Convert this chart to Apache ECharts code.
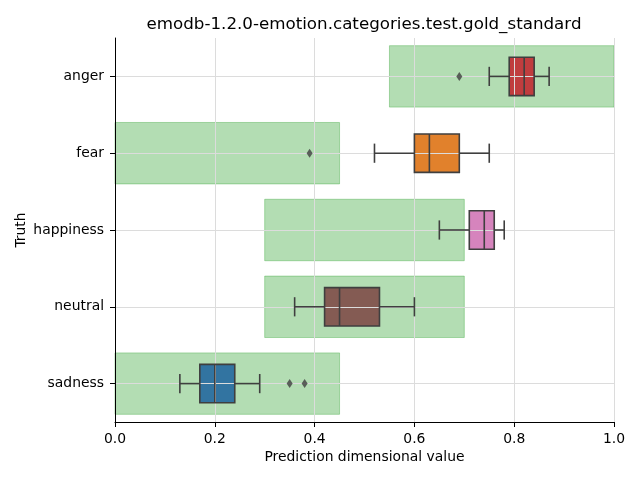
<!DOCTYPE html>
<html>
<head>
<meta charset="utf-8">
<script src="https://cdn.jsdelivr.net/npm/echarts@6/dist/echarts.min.js"></script>
<style>html,body{margin:0;padding:0;background:#fff}#c{width:640px;height:480px}</style>
</head>
<body>
<div id="c"></div>
<script>
const categories = ['anger', 'fear', 'happiness', 'neutral', 'sadness'];
const boxMin    = [0.75, 0.52, 0.65, 0.36, 0.13];
const boxQ1     = [0.79, 0.60, 0.71, 0.42, 0.17];
const boxMedian = [0.82, 0.63, 0.74, 0.45, 0.20];
const boxQ3     = [0.84, 0.69, 0.76, 0.53, 0.24];
const boxMax    = [0.87, 0.75, 0.78, 0.60, 0.29];
const outlierCats   = ['anger', 'fear', 'sadness', 'sadness'];
const outlierValues = [0.69, 0.39, 0.35, 0.38];
const rangeLow  = [0.55, 0.00, 0.30, 0.30, 0.00];
const rangeHigh = [1.00, 0.45, 0.70, 0.70, 0.45];
const xTicks = [0, 0.2, 0.4, 0.6, 0.8, 1.0];
const boxColors = ['#c03d3e', '#e1812c', '#d684bd', '#845b53', '#3274a1'];

const FONT = 'DejaVu Sans';
const LINE = '#3f3f3f';
const GRIDC = '#dcdcdc';
const chart = echarts.init(document.getElementById('c'));

const rangeData = categories.map((c, i) => [i, rangeLow[i], rangeHigh[i]]);
const boxData = categories.map((c, i) => [i, boxMin[i], boxQ1[i], boxMedian[i], boxQ3[i], boxMax[i]]);

function boxGeom(api) {
  const i = api.value(0);
  const pMin = api.coord([api.value(1), i]);
  const pQ1 = api.coord([api.value(2), i]);
  const pMed = api.coord([api.value(3), i]);
  const pQ3 = api.coord([api.value(4), i]);
  const pMax = api.coord([api.value(5), i]);
  const band = api.size([0, 1])[1];
  return { i, pMin, pQ1, pMed, pQ3, pMax, y: pMed[1], bh: band * 0.5, ch: band * 0.25 };
}

chart.setOption({
  animation: false,
  title: {
    text: 'emodb-1.2.0-emotion.categories.test.gold_standard',
    left: 359, textAlign: 'center', top: 11,
    textStyle: { fontFamily: FONT, fontSize: 16.7, fontWeight: 'normal', color: '#000' }
  },
  grid: { left: 115, right: 26, top: 38, bottom: 58 },
  xAxis: {
    type: 'value', min: 0, max: 1, interval: 0.2, z: 4,
    name: 'Prediction dimensional value', nameLocation: 'middle', nameGap: 28,
    nameMoveOverlap: false,
    nameTextStyle: { fontFamily: FONT, fontSize: 13.9, color: '#000' },
    axisLine: { show: true, lineStyle: { color: '#000', width: 1 } },
    axisTick: { show: true, length: 5, lineStyle: { color: '#000' } },
    axisLabel: { fontFamily: FONT, fontSize: 13.9, color: '#000', margin: 10,
      formatter: v => xTicks.some(t => Math.abs(t - v) < 1e-9) ? v.toFixed(1) : '' },
    splitLine: { show: true, lineStyle: { color: GRIDC, width: 1 } }
  },
  yAxis: {
    type: 'category', data: categories, inverse: true, z: 20,
    name: 'Truth', nameLocation: 'middle', nameGap: 87,
    nameMoveOverlap: false,
    nameTextStyle: { fontFamily: FONT, fontSize: 13.9, color: '#000' },
    axisLine: { show: true, lineStyle: { color: '#000', width: 1 } },
    axisTick: { show: true, length: 5, alignWithLabel: true, lineStyle: { color: '#000' } },
    axisLabel: { fontFamily: FONT, fontSize: 13.9, color: '#000', margin: 11 },
    splitLine: { show: false }
  },
  series: [
    {
      type: 'custom', z: 2,
      encode: { x: [1, 2], y: 0 },
      data: rangeData,
      renderItem: (params, api) => {
        const i = api.value(0);
        const p0 = api.coord([api.value(1), i]);
        const p1 = api.coord([api.value(2), i]);
        const h = api.size([0, 1])[1] * 0.8;
        return {
          type: 'rect',
          shape: { x: p0[0], y: p0[1] - h / 2, width: p1[0] - p0[0], height: h },
          style: { fill: 'rgba(44,160,44,0.36)', stroke: 'rgba(44,160,44,0.36)', lineWidth: 1 }
        };
      }
    },
    {
      type: 'custom', z: 3,
      encode: { x: [1, 2, 3, 4, 5], y: 0 },
      data: boxData,
      renderItem: (params, api) => {
        const g = boxGeom(api);
        return {
          type: 'rect', shape: { x: g.pQ1[0], y: g.y - g.bh / 2, width: g.pQ3[0] - g.pQ1[0], height: g.bh },
          style: { fill: boxColors[g.i], stroke: null }
        };
      }
    },
    {
      type: 'custom', z: 5,
      encode: { x: [1, 2, 3, 4, 5], y: 0 },
      data: boxData,
      renderItem: (params, api) => {
        const g = boxGeom(api);
        const y = g.y;
        const ls = { stroke: LINE, lineWidth: 1.6 };
        return {
          type: 'group',
          children: [
            { type: 'line', shape: { x1: g.pMin[0], y1: y, x2: g.pQ1[0], y2: y }, style: ls },
            { type: 'line', shape: { x1: g.pQ3[0], y1: y, x2: g.pMax[0], y2: y }, style: ls },
            { type: 'line', shape: { x1: g.pMin[0], y1: y - g.ch / 2, x2: g.pMin[0], y2: y + g.ch / 2 }, style: ls },
            { type: 'line', shape: { x1: g.pMax[0], y1: y - g.ch / 2, x2: g.pMax[0], y2: y + g.ch / 2 }, style: ls },
            { type: 'rect', shape: { x: g.pQ1[0], y: y - g.bh / 2, width: g.pQ3[0] - g.pQ1[0], height: g.bh },
              style: { fill: null, stroke: LINE, lineWidth: 1.6 } },
            { type: 'line', shape: { x1: g.pMed[0], y1: y - g.bh / 2, x2: g.pMed[0], y2: y + g.bh / 2 }, style: ls }
          ]
        };
      }
    },
    {
      type: 'scatter', z: 4,
      symbolSize: 0,
      data: [],
      markLine: {
        silent: true, symbol: 'none', label: { show: false },
        lineStyle: { color: GRIDC, width: 1, type: 'solid' },
        data: categories.map(c => ({ yAxis: c }))
      }
    },
    {
      type: 'scatter', z: 6,
      symbol: 'diamond', symbolSize: [6, 9],
      itemStyle: { color: LINE },
      data: outlierValues.map((v, k) => [v, outlierCats[k]])
    }
  ]
});
</script>
</body>
</html>
